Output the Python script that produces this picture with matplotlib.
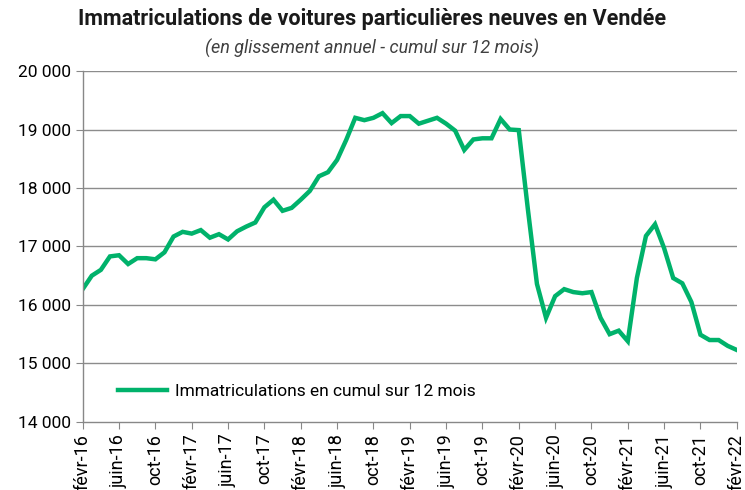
import matplotlib
matplotlib.use('Agg')
import matplotlib.pyplot as plt
import matplotlib.ticker as mticker

plt.rcParams['font.family'] = ['Roboto', 'DejaVu Sans']

# mois de févr-16 à févr-22 (cumul sur 12 mois)
mois_noms = ['janv', 'févr', 'mars', 'avr', 'mai', 'juin', 'juil', 'août', 'sept', 'oct', 'nov', 'déc']
mois = []
for k in range(73):
    m = (1 + k) % 12
    a = 16 + (1 + k) // 12
    mois.append(f"{mois_noms[m]}-{a}")

immat = [16270, 16500, 16600, 16830, 16850, 16700, 16800, 16800, 16780, 16900,
         17170, 17250, 17220, 17280, 17150, 17210, 17120, 17260, 17340, 17410,
         17670, 17800, 17610, 17660, 17800, 17950, 18200, 18270, 18480, 18820,
         19200, 19160, 19200, 19280, 19110, 19230, 19230, 19100, 19150, 19200,
         19100, 18980, 18650, 18830, 18850, 18850, 19180, 19000, 18990, 17640,
         16360, 15780, 16150, 16270, 16220, 16200, 16220, 15780, 15500, 15560,
         15380, 16460, 17180, 17380, 16970, 16460, 16370, 16050, 15490, 15400,
         15400, 15300, 15230]

fig = plt.figure(figsize=(7.45, 4.9), dpi=100)
ax = fig.add_axes([0.111, 0.139, 0.878, 0.716])

x = list(range(len(immat)))
ax.plot(x, immat, color='#00b26b', linewidth=3.2, solid_joinstyle='miter',
        label='Immatriculations en cumul sur 12 mois')

ax.set_ylim(14000, 20000)
ax.set_xlim(0, 72)
ax.yaxis.set_major_locator(mticker.MultipleLocator(1000))
ax.yaxis.set_major_formatter(mticker.FuncFormatter(lambda v, p: f"{int(v):,}".replace(',', ' ')))
ax.set_xticks(x[::4])
ax.set_xticklabels(mois[::4], rotation=90, fontsize=13)
ax.tick_params(axis='y', labelsize=12.5, color='#888888', length=5, direction='out')
ax.tick_params(axis='x', color='#888888', length=5, direction='out')

for v in range(15000, 20001, 1000):
    ax.axhline(v, color='#8c8c8c', linewidth=1.0, zorder=0)

for s in ['top', 'right']:
    ax.spines[s].set_visible(False)
for s in ['left', 'bottom']:
    ax.spines[s].set_color('#888888')
    ax.spines[s].set_linewidth(1.0)

leg = ax.legend(loc='lower left', bbox_to_anchor=(0.03, 0.02), frameon=False,
                fontsize=12.5, handlelength=2.8, handletextpad=0.5)

fig.text(0.5, 0.95, 'Immatriculations de voitures particulières neuves en Vendée',
         ha='center', fontsize=15.5, fontweight='bold', color='#1a1a1a')
fig.text(0.5, 0.89, '(en glissement annuel - cumul sur 12 mois)',
         ha='center', fontsize=13, style='italic', color='#404040')

fig.savefig('out.png', dpi=100)
